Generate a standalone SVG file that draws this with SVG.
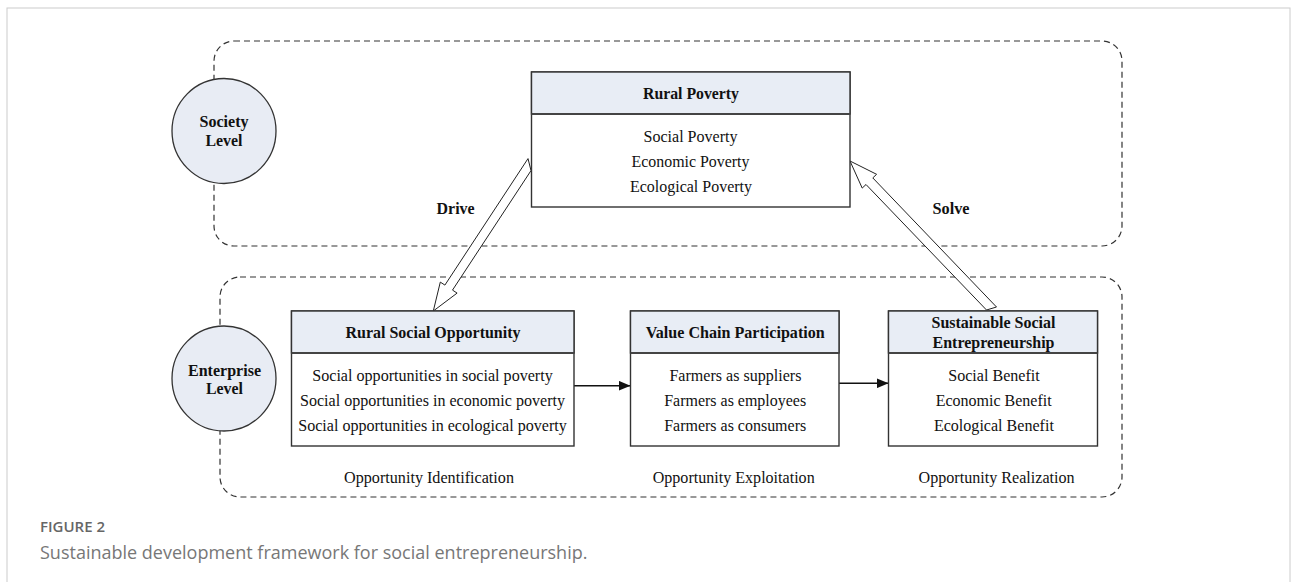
<svg xmlns="http://www.w3.org/2000/svg" width="1293" height="582" viewBox="0 0 1293 582">
<style>
.t{font-family:"Liberation Serif","Times New Roman",serif;font-size:16px;fill:#111;text-anchor:middle}
.r{font-size:16.5px}
.b{font-weight:bold}
.box{fill:#fff;stroke:#333;stroke-width:1.4}
.hdr{fill:#e8edf5;stroke:#333;stroke-width:1.4}
.sep{stroke:#444;stroke-width:2}
.lvl{fill:#e8ecf4;stroke:#333;stroke-width:1.3}
.dash{fill:none;stroke:#333;stroke-width:1.2;stroke-dasharray:6 4}
.blk{fill:#fff;stroke:#222;stroke-width:1}
.cap{font-family:"Open Sans","Liberation Sans",sans-serif}
</style>
<defs>
<marker id="ah" markerWidth="12" markerHeight="10" refX="12" refY="5" orient="auto" markerUnits="userSpaceOnUse">
<path d="M0,0 L12,5 L0,10 Z" fill="#111"/>
</marker>
</defs>
<rect x="7" y="8" width="1283" height="600" fill="#fff" stroke="#ccc" stroke-width="1"/>

<g id="containers">
<rect class="dash" x="214" y="41" width="908" height="205" rx="20"/>
<rect class="dash" x="220" y="277" width="902" height="220" rx="20"/>
</g>

<g id="connectors">
<polygon class="blk" points="528,158.6 444.9,285.1 440.3,282.1 433.3,311 457.1,293.1 452.5,290.1 531,170.6"/>
<polygon class="blk" points="850,161 876.6,174.3 872.8,177.9 996.5,307 986.5,310 866,184.5 862.2,188.1"/>
<line x1="574" y1="385.7" x2="630.5" y2="385.7" stroke="#111" stroke-width="1.6" marker-end="url(#ah)"/>
<line x1="839" y1="383.3" x2="888.5" y2="383.3" stroke="#111" stroke-width="1.6" marker-end="url(#ah)"/>
<text class="t b" x="455.6" y="213.5" textLength="38" lengthAdjust="spacingAndGlyphs">Drive</text>
<text class="t b" x="951" y="213.5" textLength="37" lengthAdjust="spacingAndGlyphs">Solve</text>
</g>

<g id="society-level">
<ellipse class="lvl" cx="224" cy="131" rx="52" ry="52.5"/>
<text class="t b" x="224" y="127" textLength="49" lengthAdjust="spacingAndGlyphs">Society</text>
<text class="t b" x="224" y="146" textLength="37" lengthAdjust="spacingAndGlyphs">Level</text>
</g>

<g id="enterprise-level">
<ellipse class="lvl" cx="224" cy="378.5" rx="52" ry="52.5"/>
<text class="t b" x="224.5" y="375.5" textLength="73" lengthAdjust="spacingAndGlyphs">Enterprise</text>
<text class="t b" x="224.5" y="394" textLength="37" lengthAdjust="spacingAndGlyphs">Level</text>
</g>

<g id="rural-poverty">
<rect class="box" x="531.5" y="72" width="318.5" height="135"/>
<rect class="hdr" x="531.5" y="72" width="318.5" height="42"/>
<line class="sep" x1="531.5" y1="114" x2="850" y2="114"/>
<text class="t b" x="691" y="98.5" textLength="96" lengthAdjust="spacingAndGlyphs">Rural Poverty</text>
<text class="t r" x="690.5" y="141.5" textLength="94" lengthAdjust="spacingAndGlyphs">Social Poverty</text>
<text class="t r" x="690.5" y="166.5" textLength="118" lengthAdjust="spacingAndGlyphs">Economic Poverty</text>
<text class="t r" x="691" y="191.5" textLength="122" lengthAdjust="spacingAndGlyphs">Ecological Poverty</text>
</g>

<g id="rural-social-opportunity">
<rect class="box" x="291.5" y="311" width="282.5" height="135"/>
<rect class="hdr" x="291.5" y="311" width="282.5" height="42"/>
<line class="sep" x1="291.5" y1="353" x2="574" y2="353"/>
<text class="t b" x="433" y="337.5" textLength="175" lengthAdjust="spacingAndGlyphs">Rural Social Opportunity</text>
<text class="t r" x="432.5" y="381" textLength="240.5" lengthAdjust="spacingAndGlyphs">Social opportunities in social poverty</text>
<text class="t r" x="432.5" y="405.5" textLength="265" lengthAdjust="spacingAndGlyphs">Social opportunities in economic poverty</text>
<text class="t r" x="432.5" y="430.5" textLength="268.5" lengthAdjust="spacingAndGlyphs">Social opportunities in ecological poverty</text>
<text class="t r" x="429" y="482.5" textLength="170" lengthAdjust="spacingAndGlyphs">Opportunity Identification</text>
</g>

<g id="value-chain-participation">
<rect class="box" x="630.5" y="311" width="208.5" height="135"/>
<rect class="hdr" x="630.5" y="311" width="208.5" height="42"/>
<line class="sep" x1="630.5" y1="353" x2="839" y2="353"/>
<text class="t b" x="735.2" y="337.5" textLength="179" lengthAdjust="spacingAndGlyphs">Value Chain Participation</text>
<text class="t r" x="735.4" y="381" textLength="132" lengthAdjust="spacingAndGlyphs">Farmers as suppliers</text>
<text class="t r" x="735.2" y="405.5" textLength="142" lengthAdjust="spacingAndGlyphs">Farmers as employees</text>
<text class="t r" x="735.2" y="430.5" textLength="142" lengthAdjust="spacingAndGlyphs">Farmers as consumers</text>
<text class="t r" x="733.7" y="482.5" textLength="162" lengthAdjust="spacingAndGlyphs">Opportunity Exploitation</text>
</g>

<g id="sustainable-social-entrepreneurship">
<rect class="box" x="888.5" y="311" width="209" height="135"/>
<rect class="hdr" x="888.5" y="311" width="209" height="42"/>
<line class="sep" x1="888.5" y1="353" x2="1097.5" y2="353"/>
<text class="t b" x="993.5" y="328" textLength="124" lengthAdjust="spacingAndGlyphs">Sustainable Social</text>
<text class="t b" x="993.5" y="347.5" textLength="122" lengthAdjust="spacingAndGlyphs">Entrepreneurship</text>
<text class="t r" x="994" y="381" textLength="91.5" lengthAdjust="spacingAndGlyphs">Social Benefit</text>
<text class="t r" x="993.7" y="405.5" textLength="116" lengthAdjust="spacingAndGlyphs">Economic Benefit</text>
<text class="t r" x="993.9" y="430.5" textLength="120" lengthAdjust="spacingAndGlyphs">Ecological Benefit</text>
<text class="t r" x="996.6" y="482.5" textLength="156" lengthAdjust="spacingAndGlyphs">Opportunity Realization</text>
</g>

<g id="caption">
<text class="cap" x="40" y="532.3" font-size="15" font-weight="600" fill="#666">FIGURE 2</text>
<text class="cap" x="40" y="559" font-size="18" fill="#777">Sustainable development framework for social entrepreneurship.</text>
</g>
</svg>
